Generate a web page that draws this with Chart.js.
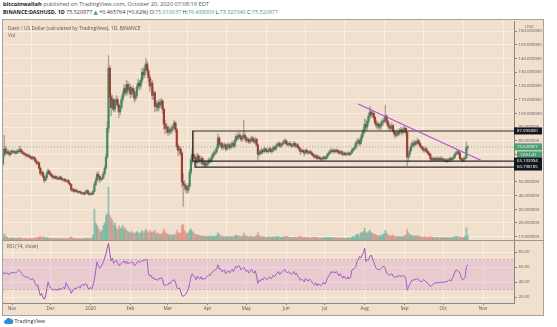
<!DOCTYPE html>
<html>
<head>
<meta charset="utf-8">
<title>DASHUSD 1D</title>
<script src="https://cdn.jsdelivr.net/npm/chart.js@4.4.1/dist/chart.umd.min.js"></script>
<style>
  html, body { margin: 0; padding: 0; background: #fff; }
  body { width: 557px; height: 327px; position: relative; overflow: hidden; font-family: "Open Sans", "DejaVu Sans", sans-serif; }
  .abs { position: absolute; white-space: nowrap; }
  #frame { left: 2px; top: 19px; width: 542px; height: 297px; background: #f2e0ce; border: 1px solid #a8a29c; box-sizing: border-box; }
  #hdr1 { left: 3px; top: 0px; font-size: 5.7px; color: #555; }
  #hdr2 { left: 3px; top: 8px; font-size: 5.4px; color: #333; }
  #hdr1 b, #hdr2 b { color: #222; }
  .g { color: #3a9f80; }
  .legend { font-size: 4.9px; color: #555; }
  #sep { left: 3px; top: 240px; width: 541px; height: 1px; background: #9c958f; }
  #tv { left: 4px; top: 317px; font-size: 5.4px; color: #333; }
  canvas { position: absolute; }
</style>
</head>
<body>
<div id="frame" class="abs"></div>
<div id="hdr1" class="abs"><b>bitcoinwallah</b> published on TradingView.com, October 20, 2020 07:08:19 EDT</div>
<div id="hdr2" class="abs"><b>BINANCE:DASHUSD, 1D</b> 75.520977 <span class="g">▲</span> +0.465764 (+0.62%) O:<span class="g">75.010037</span> H:<span class="g">76.438009</span> L:<span class="g">73.327040</span> C:<span class="g">75.520977</span></div>
<canvas id="priceCanvas" width="540" height="219" style="left:3px;top:21px;"></canvas>
<canvas id="rsiCanvas" width="540" height="75" style="left:3px;top:240px;"></canvas>
<div id="sep" class="abs"></div>
<div class="abs legend" style="left:8px;top:25px;">Dash / US Dollar (calculated by TradingView), 1D, BINANCE</div>
<div class="abs legend" style="left:8px;top:32px;">Vol</div>
<div class="abs legend" style="left:7px;top:243px;">RSI (14, close)</div>
<div id="tv" class="abs"><svg width="9" height="6" viewBox="0 0 18 12" style="vertical-align:-1px"><path d="M4 12 a4 4 0 0 1 0-8 a5 5 0 0 1 9-2 a4 4 0 0 1 1 10 z" fill="#2b8fe0"/></svg> TradingView</div>
<script>
// day 0 = 2019-11-01, one value per daily candle from 2019-10-25 to 2020-10-20
const firstDay = -7;

const opens = [
  63, 70, 74, 71, 72, 71, 70,
  72, 72, 71.5, 72, 71, 72.5, 72, 73.5, 72, 71, 70.5, 70, 69, 69.5, 68.5, 68, 67, 68, 67, 65, 63.5, 64, 60, 56, 57, 54, 51, 53, 56, 58,
  56, 55, 54, 53, 54, 52.5, 53, 52, 53.5, 52, 51.5, 52, 51, 50.5, 51, 49, 48, 44, 44.5, 43, 44, 43, 42.5, 43, 42, 41.5, 42, 41, 42.5, 43.5, 41.5,
  41, 41.5, 41, 43, 48, 51, 55.5, 54, 51.5, 52, 53, 56, 60, 68, 89, 133, 112, 104, 110, 103, 108, 110, 106, 101, 104, 110, 114, 118, 115, 121, 117,
  119, 114, 118, 116, 111, 113, 119, 122, 120, 124, 130, 128, 133, 136, 131, 126, 120, 122, 113, 115, 105, 107, 104, 108, 106, 109, 103, 92, 89,
  90, 86, 88, 87, 89, 90, 93, 88, 76, 73, 74, 71, 50, 48, 47, 45, 44, 47, 57, 66, 70, 68, 67, 64, 69, 66, 65, 67, 63, 64, 62,
  63, 64, 66, 65, 68, 70, 71, 72, 75, 82, 77, 78, 75, 76, 77, 74, 76, 77, 75, 77, 78, 76, 80, 83, 82, 84, 83, 81, 83, 84,
  82, 80, 81, 79, 80, 82, 80, 79, 81, 77, 70, 72, 71, 73, 72, 74, 73, 72, 73, 74, 72, 73, 75, 74, 76, 77, 78, 76, 77, 78, 79,
  80, 78, 77, 78, 77, 76, 77, 78, 76, 77, 75, 74, 72, 73, 72, 71, 73, 72, 71, 72, 71, 70, 69, 68, 69, 67, 68, 67, 66.5, 67,
  68, 67, 68, 70, 71, 72, 73, 72, 73, 72, 73, 72, 71, 72, 71, 70, 71, 70, 70, 71, 70, 71, 73, 74, 75, 78, 79, 80, 78, 82, 85,
  88, 92, 90, 94, 98, 101, 99, 100, 97, 93, 91, 92, 90, 91, 93, 94, 95, 98, 94, 91, 90, 89, 91, 87, 85, 84, 86, 85, 87, 88, 86,
  88, 89, 86, 68, 70, 73, 76, 78, 77, 79, 78, 80, 78, 76, 75, 74, 73, 74, 72, 71, 70, 67, 66, 67, 66, 67, 66, 67, 66, 67,
  66, 66, 65.5, 66, 65, 66, 67, 66, 67, 68, 70, 71, 72, 71, 67, 66, 65.5, 67, 67.5, 75.01
];
const highs = [
  74, 84, 76, 74, 73.5, 72.5, 73,
  73.5, 73, 73, 72.5, 73.5, 74, 76, 74.5, 73, 72, 71.5, 70.5, 70.5, 70, 69.5, 69, 69, 68.5, 68, 66, 65.5, 64.5, 61, 58.5, 57.5, 55, 54.5, 57.5, 59.5, 58.5,
  57, 56, 55, 55, 54.5, 54, 53.5, 54.5, 54, 53, 52.5, 52.5, 51.5, 52, 51.5, 49.5, 48.5, 45.5, 45, 45, 44.5, 43.5, 43.5, 43.5, 42.5, 42.5, 42.5, 43.5, 44.5, 44, 42,
  42.5, 42.5, 44, 49.5, 53, 57, 57.5, 55, 53.5, 54.5, 57.5, 61.5, 70, 94, 142, 135, 114, 113, 111, 110, 113, 112, 107, 106, 112, 116, 121, 120, 124, 123, 122,
  121, 119, 120, 118, 115, 121, 125, 124, 126, 133, 132, 135, 140, 138, 133, 128, 125, 124, 117, 116, 109, 109, 110, 110, 111, 110, 104, 95, 93,
  91, 89, 90, 91, 92, 95, 94, 89, 78, 76, 76, 72, 56, 51, 49, 47.5, 48.5, 59, 68, 74, 87.1, 70, 69, 71, 70, 68, 69, 68, 66, 65.5, 65,
  66, 67.5, 67, 69.5, 71.5, 73, 74, 77, 85, 83, 79.5, 79, 77.5, 78.5, 78, 77.5, 78.5, 78, 78.5, 80, 79, 81.5, 85, 84.5, 86, 86, 84, 85, 95, 86,
  83, 82.5, 82, 81.5, 83.5, 83, 81.5, 82.5, 82, 78, 73.5, 73.5, 74.5, 74, 75.5, 75, 74, 74.5, 75.5, 75, 74, 76.5, 76, 77.5, 78.5, 79.5, 79, 78, 79.5, 80.5, 81.5,
  81, 79.5, 79, 79.5, 78.5, 78, 79.5, 79, 78, 78, 76, 75, 74, 74, 73, 74, 74, 73, 73, 73, 72, 71, 70, 70, 69.5, 69, 69, 68, 68, 69,
  69, 69, 71, 72.5, 73.5, 74.5, 74, 74, 74, 74, 74, 73, 73, 73, 72, 72, 71.5, 71, 72, 71.5, 72, 74, 75, 76.5, 79.5, 81, 82, 81, 84, 87, 90,
  96, 95, 96, 100, 105, 103, 102, 101, 98, 95, 94, 93, 93, 95, 96, 97, 106, 99, 95, 93, 92, 93, 92, 88, 87, 88, 87.5, 89, 90, 89, 90,
  91, 90, 87, 72, 75, 78, 80, 79.5, 80.5, 80, 82, 81, 79, 77, 76, 75.5, 75.5, 75, 73, 72, 71, 68, 68.5, 68, 68, 68, 68.5, 68, 68.5, 68,
  67.5, 67, 67, 67, 67, 68, 68, 68, 69.5, 71.5, 72.5, 73.5, 73, 71.5, 68, 67, 68, 69, 79, 76.44
];
const lows = [
  62, 68, 69.5, 70, 70, 68.5, 69.5,
  70.5, 70.5, 70.5, 70, 70.5, 71, 71, 71, 70, 69.5, 69, 68, 68, 67.5, 67, 66, 66, 66, 64.5, 62.5, 62.5, 59, 54.5, 55, 53, 49.5, 50.5, 52, 55, 55,
  54, 53, 52, 52.5, 52, 51.5, 51.5, 51.5, 51.5, 50.5, 50.5, 50, 49.5, 50, 48.5, 47, 43, 43, 42, 42.5, 42.5, 41.5, 42, 41.5, 40.5, 41, 40.5, 40.5, 42, 41, 40,
  40.5, 40.5, 40.5, 42.5, 47, 50, 53, 49.5, 50.5, 51, 52, 55, 59, 67, 86, 108, 98, 102, 101, 101, 106, 104, 97, 99, 103, 108, 112, 113, 113, 114, 115,
  111, 112, 114, 108, 109, 111, 117, 117, 118, 122, 125, 126, 131, 128, 123, 116, 118, 110, 110, 101, 102, 101, 102, 104, 104, 100, 88, 85, 86,
  84, 84, 85, 85, 87, 88, 86, 74, 69, 70, 69, 46, 32, 44, 42, 41.5, 42, 46, 55, 63, 65, 64, 61.5, 62.5, 64, 63, 63.5, 62, 61.5, 60.8, 61,
  61.5, 62.5, 64, 64, 66.5, 68.5, 69.5, 70.5, 74, 75.5, 75.5, 73.5, 73.5, 75, 72.5, 73, 74.5, 73.5, 74, 75.5, 74.5, 75, 78.5, 80.5, 80.5, 81.5, 79.5, 79.5, 81.5, 80,
  78.5, 79, 78, 78, 79, 79, 78, 78, 76, 66, 68.5, 70, 70, 71, 71, 72, 71, 71, 72, 71, 71, 72, 73, 73, 75, 76, 75, 75, 76, 77, 78,
  77, 76, 76, 76.5, 75, 75, 76, 75, 75, 74, 73, 70, 71, 71, 69, 70, 71, 70, 70.5, 70, 69, 68, 67, 67.5, 66, 66.5, 66, 65.5, 65.5, 66,
  66, 66, 67, 69, 70, 71, 71, 71, 71, 71, 71, 70, 70, 70, 69, 69, 69, 69, 69.5, 69, 69.5, 70.5, 72, 73, 74, 76, 77, 76, 77, 80, 83,
  86, 87, 88, 92, 96, 97, 97, 95, 92, 89, 89, 88, 88, 89, 91, 93, 93, 92, 89, 88, 87, 88, 86, 83, 82, 83, 83.5, 84, 86, 84, 85,
  86, 84, 61.6, 65, 68, 72, 75, 75, 76, 76.5, 77, 77, 75, 73.5, 72.5, 71.5, 72, 71, 69.5, 69, 65.5, 65, 65.2, 65, 65.2, 65, 65.3, 65, 65.3, 65,
  65, 64.5, 64.5, 64, 64.5, 65, 65, 65.5, 66, 67, 69.5, 70, 69.5, 66, 65, 64.5, 65, 66, 67, 73.33
];
const closes = [
  70, 74, 71, 72, 71, 70, 72,
  72, 71.5, 72, 71, 72.5, 72, 73.5, 72, 71, 70.5, 70, 69, 69.5, 68.5, 68, 67, 68, 67, 65, 63.5, 64, 60, 56, 57, 54, 51, 53, 56, 58, 56,
  55, 54, 53, 54, 52.5, 53, 52, 53.5, 52, 51.5, 52, 51, 50.5, 51, 49, 48, 44, 44.5, 43, 44, 43, 42.5, 43, 42, 41.5, 42, 41, 42.5, 43.5, 41.5, 41,
  41.5, 41, 43, 48, 51, 55.5, 54, 51.5, 52, 53, 56, 60, 68, 89, 133, 112, 104, 110, 103, 108, 110, 106, 101, 104, 110, 114, 118, 115, 121, 117, 119,
  114, 118, 116, 111, 113, 119, 122, 120, 124, 130, 128, 133, 136, 131, 126, 120, 122, 113, 115, 105, 107, 104, 108, 106, 109, 103, 92, 89, 90,
  86, 88, 87, 89, 90, 93, 88, 76, 73, 74, 71, 50, 48, 47, 45, 44, 47, 57, 66, 70, 68, 67, 64, 69, 66, 65, 67, 63, 64, 62, 63,
  64, 66, 65, 68, 70, 71, 72, 75, 82, 77, 78, 75, 76, 77, 74, 76, 77, 75, 77, 78, 76, 80, 83, 82, 84, 83, 81, 83, 84, 82,
  80, 81, 79, 80, 82, 80, 79, 81, 77, 70, 72, 71, 73, 72, 74, 73, 72, 73, 74, 72, 73, 75, 74, 76, 77, 78, 76, 77, 78, 79, 80,
  78, 77, 78, 77, 76, 77, 78, 76, 77, 75, 74, 72, 73, 72, 71, 73, 72, 71, 72, 71, 70, 69, 68, 69, 67, 68, 67, 66.5, 67, 68,
  67, 68, 70, 71, 72, 73, 72, 73, 72, 73, 72, 71, 72, 71, 70, 71, 70, 70, 71, 70, 71, 73, 74, 75, 78, 79, 80, 78, 82, 85, 88,
  92, 90, 94, 98, 101, 99, 100, 97, 93, 91, 92, 90, 91, 93, 94, 95, 98, 94, 91, 90, 89, 91, 87, 85, 84, 86, 85, 87, 88, 86, 88,
  89, 86, 68, 70, 73, 76, 78, 77, 79, 78, 80, 78, 76, 75, 74, 73, 74, 72, 71, 70, 67, 66, 67, 66, 67, 66, 67, 66, 67, 66,
  66, 65.5, 66, 65, 66, 67, 66, 67, 68, 70, 71, 72, 71, 67, 66, 65.5, 67, 67.5, 75.06, 75.52
];
const volumes = [
  12, 24, 16, 12, 8, 8, 8,
  8, 7, 8, 6, 8, 7, 10, 8, 6, 6, 7, 6, 5, 6, 6, 7, 6, 6, 9, 10, 8, 12, 16, 10, 12, 14, 9, 10, 9, 7,
  7, 6, 6, 7, 6, 5, 6, 6, 5, 6, 6, 5, 6, 5, 8, 9, 14, 8, 7, 6, 6, 5, 5, 6, 5, 5, 6, 7, 8, 7, 6,
  6, 8, 20, 128, 70, 60, 50, 40, 30, 40, 60, 70, 100, 108, 216, 100, 90, 80, 60, 70, 50, 40, 60, 45, 50, 60, 45, 50, 40, 35, 30,
  30, 35, 25, 30, 28, 35, 30, 25, 30, 40, 28, 35, 45, 35, 30, 40, 30, 35, 30, 40, 25, 30, 25, 20, 25, 30, 45, 35, 25,
  25, 20, 22, 20, 18, 25, 20, 40, 30, 25, 30, 60, 64, 40, 30, 25, 30, 40, 45, 35, 30, 25, 20, 22, 20, 18, 15, 18, 15, 16, 15,
  14, 15, 14, 18, 15, 14, 16, 18, 30, 22, 18, 16, 14, 12, 15, 14, 13, 14, 12, 14, 13, 18, 20, 16, 18, 15, 14, 16, 28, 18,
  18, 14, 12, 14, 16, 14, 12, 14, 20, 30, 18, 15, 14, 12, 14, 12, 11, 12, 13, 12, 11, 14, 12, 13, 15, 14, 12, 11, 12, 14, 13,
  15, 14, 12, 11, 10, 11, 10, 12, 11, 12, 13, 16, 12, 10, 12, 11, 10, 9, 10, 9, 10, 11, 12, 10, 11, 9, 8, 9, 8, 9,
  10, 9, 10, 11, 10, 11, 9, 10, 9, 9, 8, 9, 8, 9, 8, 8, 7, 8, 9, 8, 9, 12, 14, 12, 20, 22, 25, 18, 30, 28, 35,
  48, 30, 28, 35, 40, 30, 28, 25, 22, 20, 18, 17, 18, 20, 22, 25, 40, 28, 22, 18, 16, 18, 20, 16, 14, 15, 13, 14, 15, 13, 14,
  18, 20, 45, 30, 22, 20, 18, 16, 18, 15, 20, 16, 14, 13, 12, 12, 13, 12, 11, 12, 14, 12, 11, 10, 10, 11, 10, 9, 10, 9,
  10, 9, 10, 9, 9, 10, 9, 10, 11, 14, 15, 14, 12, 13, 11, 10, 12, 14, 50, 20
];
const rsiValues = [
  50, 53, 51, 52, 51, 50, 52,
  53, 52, 53, 52, 54, 56, 55, 53, 50, 48, 47, 46, 47, 45, 44, 43, 45, 42, 38, 35, 36, 28, 22, 25, 20, 17, 20, 31, 40, 35,
  32, 30, 29, 31, 29, 30, 29, 32, 30, 31, 33, 31, 39, 36, 32, 30, 25, 28, 30, 32, 31, 33, 34, 32, 36, 37, 35, 38, 37, 32, 30,
  33, 31, 36, 43, 55, 67, 62, 58, 60, 63, 67, 72, 78, 85, 91.5, 78, 68, 72, 65, 67, 69, 66, 62, 63, 65, 67, 68, 65, 68, 64, 66,
  65, 67, 66, 62, 63, 66, 68, 66, 67, 69, 68, 69, 70, 69, 51, 48, 49, 45, 46, 43, 44, 42, 45, 44, 46, 43, 36, 35, 37,
  36, 39, 38, 41, 42, 43, 40, 33, 31, 32, 28, 22, 21, 22, 24, 27, 30, 38, 47, 51, 48, 46, 43, 48, 45, 44, 47, 43, 45, 44, 46,
  48, 50, 49, 52, 54, 55, 56, 58, 63, 57, 58, 54, 55, 56, 51, 53, 55, 52, 55, 57, 54, 58, 61, 59, 62, 60, 56, 58, 60, 57,
  54, 56, 52, 54, 57, 54, 52, 55, 48, 38, 42, 41, 44, 43, 46, 45, 43, 45, 47, 44, 46, 49, 47, 50, 52, 54, 50, 52, 54, 55, 57,
  54, 52, 54, 52, 50, 52, 54, 50, 52, 48, 46, 42, 44, 42, 40, 45, 43, 41, 44, 42, 40, 38, 36, 39, 35, 38, 36, 35, 37, 40,
  37, 40, 45, 48, 50, 54, 52, 54, 52, 54, 51, 48, 51, 48, 45, 48, 45, 44, 47, 44, 46, 56, 57, 58, 60, 67, 70, 74, 72, 76, 79,
  85, 67, 70, 69, 74, 76, 72, 67, 62, 58, 57, 56, 57, 59, 60, 61, 58, 52, 50, 49, 50, 51, 48, 47, 46, 48, 47, 49, 48, 47, 49,
  48, 44, 29, 33, 37, 40, 43, 42, 44, 43, 45, 43, 41, 40, 42, 43, 41, 40, 38, 36, 34, 35, 37, 38, 40, 38, 40, 39, 40, 39,
  40, 39, 41, 40, 42, 43, 41, 45, 48, 53, 56, 55, 54, 52, 46, 43, 44, 46, 60, 63
];

// axis ticks (day index of each month start) and their labels
const monthStarts = [0, 30, 61, 92, 121, 152, 182, 213, 243, 274, 305, 335, 366];
const monthLabels = ['Nov', 'Dec', '2020', 'Feb', 'Mar', 'Apr', 'May', 'Jun', 'Jul', 'Aug', 'Sep', 'Oct', 'Nov'];
const priceTicks = [10, 20, 30, 40, 50, 60, 70, 80, 90, 100, 110, 120, 130, 140, 150, 160];
const rsiTicks = [20, 40, 60, 80];

// drawings: horizontal range, trend line (day index, price)
const rangeTop = 87.0958, rangeMid = 65.133994, rangeLow = 60.798185;
const rangeStart = 140.4, rangeStart2 = 142.2;
const trendFrom = { x: 269, y: 106.8 }, trendTo = { x: 365, y: 65.4 };
const lastPrice = 75.520977;
const rsiUpper = 70, rsiLower = 30;

// visible window
const xMin = -7, xMax = 390;
const priceMin = 7.6, priceMax = 167.3;
const rsiMin = 12, rsiMax = 96;
const volMax = 900;

const dayIdx = closes.map((c, i) => firstDay + i);
const isUp = closes.map((c, i) => c >= opens[i]);

const gridCol = 'rgba(255,255,255,0.45)';
const axisCol = '#8d8781';
const tickFont = { family: '"Open Sans", sans-serif', size: 4.3 };

// labels on the price scale
const axisTags = {
    id: 'axisTags',
    afterDraw(chart, args, opts) {
        const ctx = chart.ctx;
        const y = chart.scales.y;
        const area = chart.chartArea;
        ctx.save();
        ctx.font = '4.3px "Open Sans", sans-serif';
        ctx.textBaseline = 'middle';
        opts.tags.forEach(t => {
            const py = y.getPixelForValue(t.value) + (t.dy || 0);
            ctx.fillStyle = t.bg;
            ctx.fillRect(area.right + (t.inset || 0), py - 3.5, 28 - (t.inset || 0), 7);
            ctx.fillStyle = '#fff';
            ctx.fillText(t.text, area.right + 3 + (t.inset || 0), py);
        });
        ctx.fillStyle = '#666';
        ctx.fillText('USD', area.right + 11, y.getPixelForValue(priceMax) + 6);
        ctx.restore();
    }
};

new Chart(document.getElementById('priceCanvas'), {
    type: 'bar',
    data: {
        datasets: [
            {
                type: 'line',
                data: [{ x: trendFrom.x, y: trendFrom.y }, { x: trendTo.x, y: trendTo.y }],
                borderColor: '#b44fd4',
                borderWidth: 1.2,
                pointRadius: 0,
                order: 0
            },
            {
                type: 'line',
                data: [{ x: xMax, y: rangeTop }, { x: rangeStart, y: rangeTop }, { x: rangeStart, y: rangeMid }, { x: xMax, y: rangeMid }],
                borderColor: '#2d2a28',
                borderWidth: 1.2,
                pointRadius: 0,
                order: 1
            },
            {
                type: 'line',
                data: [{ x: rangeStart2, y: rangeMid }, { x: rangeStart2, y: rangeLow }, { x: xMax, y: rangeLow }],
                borderColor: '#2d2a28',
                borderWidth: 1.2,
                pointRadius: 0,
                order: 1
            },
            {
                // candle bodies
                data: dayIdx.map((d, i) => ({ x: d, y: [opens[i], closes[i]] })),
                backgroundColor: isUp.map(u => u ? '#3f8c5f' : '#a63b2d'),
                barThickness: 1.5,
                minBarLength: 0.8,
                grouped: false,
                order: 3
            },
            {
                // wicks
                data: dayIdx.map((d, i) => ({ x: d, y: [lows[i], highs[i]] })),
                backgroundColor: '#aca59e',
                barThickness: 0.8,
                grouped: false,
                order: 4
            },
            {
                type: 'line',
                data: [{ x: xMin, y: lastPrice }, { x: xMax, y: lastPrice }],
                borderColor: 'rgba(76,150,110,0.6)',
                borderDash: [1, 2],
                borderWidth: 1,
                pointRadius: 0,
                order: 6
            },
            {
                // volume
                data: dayIdx.map((d, i) => ({ x: d, y: volumes[i] })),
                yAxisID: 'vol',
                backgroundColor: isUp.map(u => u ? 'rgba(70,172,150,0.55)' : 'rgba(232,106,98,0.5)'),
                barThickness: 1.3,
                grouped: false,
                order: 5
            }
        ]
    },
    options: {
        responsive: false,
        animation: false,
        events: [],
        layout: { padding: 0 },
        plugins: {
            legend: { display: false },
            tooltip: { enabled: false },
            axisTags: {
                tags: [
                    { value: rangeTop, text: '87.095800', bg: '#15171f' },
                    { value: lastPrice, text: '75.520977', bg: '#4f9d74' },
                    { value: lastPrice, text: '12:51:41', bg: '#4f9d74', dy: 8, inset: 3 },
                    { value: rangeMid, text: '65.133994', bg: '#15171f' },
                    { value: rangeLow, text: '60.798185', bg: '#15171f' }
                ]
            }
        },
        scales: {
            x: {
                type: 'linear',
                min: xMin,
                max: xMax,
                offset: false,
                afterBuildTicks: s => { s.ticks = monthStarts.map(v => ({ value: v })); },
                ticks: { display: false },
                grid: { color: gridCol, drawTicks: false },
                border: { display: false },
                afterFit: s => { s.height = 0; s.paddingLeft = 0; s.paddingRight = 0; }
            },
            y: {
                position: 'right',
                min: priceMin,
                max: priceMax,
                afterBuildTicks: s => { s.ticks = priceTicks.map(v => ({ value: v })); },
                ticks: { callback: v => v.toFixed(6), font: tickFont, color: '#555', padding: 1.5 },
                grid: { color: gridCol, tickColor: '#8a847e', tickLength: 3 },
                border: { color: axisCol },
                afterFit: s => { s.width = 29; s.paddingTop = 0; s.paddingBottom = 0; }
            },
            vol: { display: false, min: 0, max: volMax }
        }
    },
    plugins: [axisTags]
});

new Chart(document.getElementById('rsiCanvas'), {
    type: 'line',
    data: {
        datasets: [
            {
                data: [{ x: xMin, y: rsiUpper }, { x: xMax, y: rsiUpper }],
                borderColor: 'rgba(160,120,170,0.45)',
                borderDash: [2, 2],
                borderWidth: 1,
                pointRadius: 0,
                fill: '+1',
                backgroundColor: 'rgba(196,140,212,0.24)'
            },
            {
                data: [{ x: xMin, y: rsiLower }, { x: xMax, y: rsiLower }],
                borderColor: 'rgba(160,120,170,0.45)',
                borderDash: [2, 2],
                borderWidth: 1,
                pointRadius: 0
            },
            {
                data: dayIdx.map((d, i) => ({ x: d, y: rsiValues[i] })),
                borderColor: '#9a4cc2',
                borderWidth: 1,
                pointRadius: 0
            }
        ]
    },
    options: {
        responsive: false,
        animation: false,
        events: [],
        layout: { padding: 0 },
        plugins: { legend: { display: false }, tooltip: { enabled: false } },
        scales: {
            x: {
                type: 'linear',
                min: xMin,
                max: xMax,
                afterBuildTicks: s => { s.ticks = monthStarts.map(v => ({ value: v })); },
                ticks: {
                    callback: v => monthLabels[monthStarts.indexOf(v)],
                    font: { family: '"Open Sans", sans-serif', size: 4.6 },
                    color: '#555',
                    padding: 1,
                    maxRotation: 0,
                    autoSkip: false
                },
                grid: { color: gridCol, tickColor: '#8a847e', tickLength: 2 },
                border: { color: axisCol },
                afterFit: s => { s.height = 12; s.paddingLeft = 0; s.paddingRight = 0; }
            },
            y: {
                position: 'right',
                min: rsiMin,
                max: rsiMax,
                afterBuildTicks: s => { s.ticks = rsiTicks.map(v => ({ value: v })); },
                ticks: { callback: v => v.toFixed(2), font: tickFont, color: '#555', padding: 1.5 },
                grid: { color: gridCol, tickColor: '#8a847e', tickLength: 3 },
                border: { color: axisCol },
                afterFit: s => { s.width = 29; s.paddingTop = 0; s.paddingBottom = 0; }
            }
        }
    }
});
</script>
</body>
</html>
